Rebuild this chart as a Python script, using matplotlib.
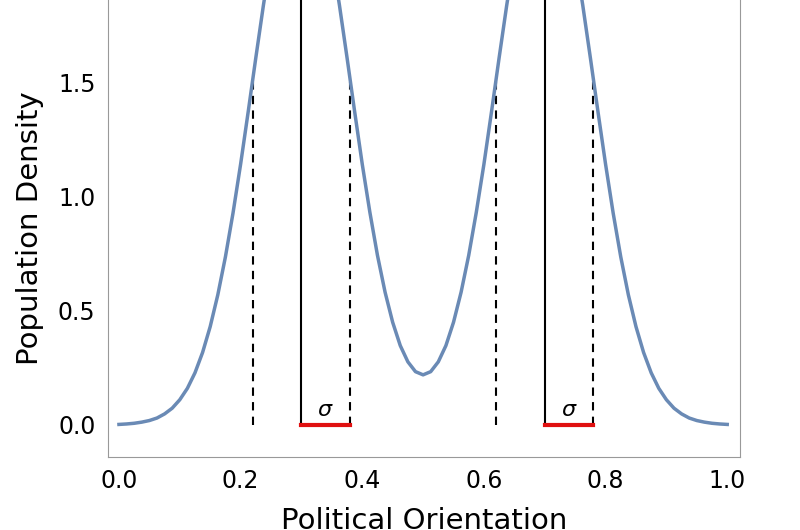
import numpy as np
import matplotlib.pyplot as plt

# density values (left half, the curve is mirror symmetric about 0.5)
x_left = [0.0, 0.0125, 0.025, 0.0375, 0.05, 0.0625, 0.075, 0.0875, 0.1, 0.1125, 0.125, 0.1375,
          0.15, 0.1625, 0.175, 0.1875, 0.2, 0.2125, 0.225, 0.2375, 0.25, 0.2625, 0.275, 0.2875,
          0.3, 0.3125, 0.325, 0.3375, 0.35, 0.3625, 0.375, 0.3875, 0.4, 0.4125, 0.425, 0.4375,
          0.45, 0.4625, 0.475, 0.4875, 0.5]
dens_left = [0.002, 0.004, 0.007, 0.012, 0.019, 0.030, 0.048, 0.073, 0.110, 0.160, 0.228, 0.317,
             0.430, 0.569, 0.735, 0.927, 1.141, 1.371, 1.607, 1.837, 2.051, 2.234, 2.374, 2.463,
             2.493, 2.463, 2.374, 2.234, 2.051, 1.837, 1.607, 1.371, 1.141, 0.931, 0.742, 0.581,
             0.449, 0.347, 0.276, 0.233, 0.219]
x_vals = x_left + [round(1 - v, 4) for v in x_left[-2::-1]]
density = dens_left + dens_left[-2::-1]
means = [0.3, 0.7]
sigma = 0.08
dash_x = [0.22, 0.38, 0.62, 0.78]
dash_top = 1.5

fig = plt.figure(figsize=(8, 5.3), dpi=100)
ax = fig.add_axes([0.135, 0.138, 0.79, 0.862])
ax.plot(x_vals, density, color="#6a8ab5", lw=2.5, zorder=3)
for m in means:
    ax.plot([m, m], [0, 3], color="k", lw=1.5)
    ax.plot([m, m + sigma], [0, 0], color="#e01010", lw=3, zorder=4)
    ax.text(m + sigma / 2, 0.02, "$\\sigma$", fontsize=16, ha="center", va="bottom")
for xd in dash_x:
    ax.plot([xd, xd], [0, dash_top], color="k", lw=1.5, ls=(0, (4, 3)))

ax.set_xlim(-0.018, 1.021)
ax.set_ylim(-0.14, 1.86)
ax.set_xticks([0.0, 0.2, 0.4, 0.6, 0.8, 1.0])
ax.set_yticks([0.0, 0.5, 1.0, 1.5])
ax.tick_params(labelsize=17, length=0, pad=9)
ax.set_xlabel("Political Orientation", fontsize=21, labelpad=10)
ax.set_ylabel("Population Density", fontsize=21, labelpad=10)
ax.spines["top"].set_visible(False)
for s in ["left", "right", "bottom"]:
    ax.spines[s].set_color("#999999")

fig.savefig("out.png")
